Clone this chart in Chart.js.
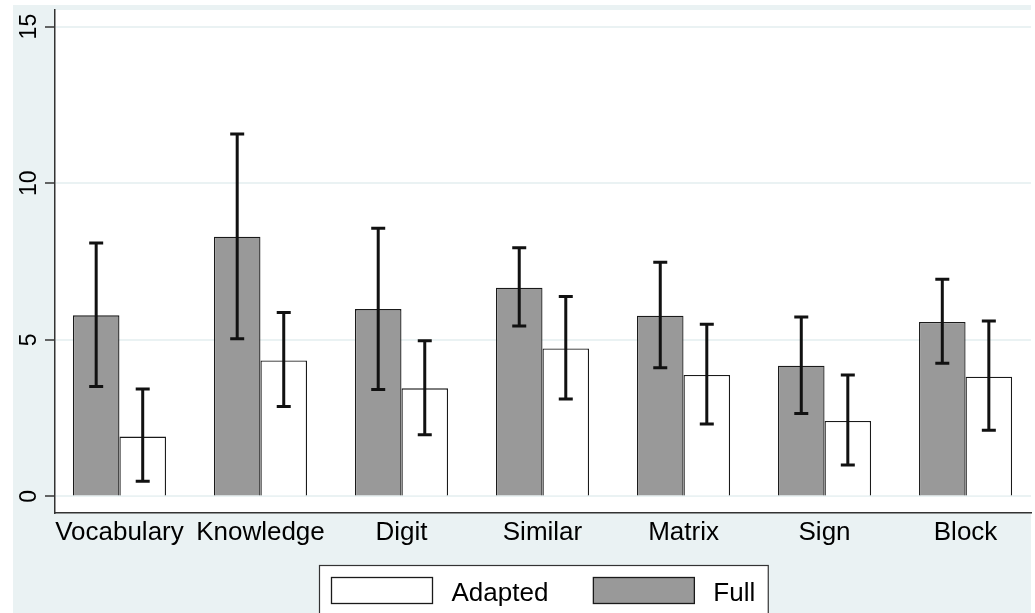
<!DOCTYPE html>
<html>
<head>
<meta charset="utf-8">
<script src="https://cdn.jsdelivr.net/npm/chart.js@4/dist/chart.umd.min.js"></script>
<style>
  html, body { margin: 0; padding: 0; background: #ffffff; }
  #wrap { width: 1035px; height: 613px; position: relative; }
</style>
</head>
<body>
<div id="wrap"><canvas id="c"></canvas></div>
<script>
// ---- data ----
const categories = ['Vocabulary', 'Knowledge', 'Digit', 'Similar', 'Matrix', 'Sign', 'Block'];
const fullMean   = [5.78, 8.29, 5.98, 6.66, 5.77, 4.17, 5.57];
const fullLow    = [3.51, 5.03, 3.41, 5.44, 4.11, 2.65, 4.25];
const fullHigh   = [8.09, 11.57, 8.56, 7.94, 7.48, 5.73, 6.93];
const adaptedMean = [1.91, 4.34, 3.45, 4.72, 3.88, 2.41, 3.82];
const adaptedLow  = [0.48, 2.87, 1.97, 3.11, 2.31, 1.00, 2.11];
const adaptedHigh = [3.43, 5.87, 4.97, 6.38, 5.50, 3.88, 5.60];
const yTicks = [0, 5, 10, 15];
const legendOrder = ['Adapted', 'Full'];

const FONT = '"Liberation Sans", Arial, Helvetica, sans-serif';
const BG = '#eaf2f3';
const FULL_COLOR = '#999999';
const EDGE = '#1a1a1a';

const backgroundPlugin = {
  id: 'bg',
  beforeDraw(chart) {
    const { ctx, chartArea: a, width, height } = chart;
    ctx.save();
    ctx.fillStyle = '#ffffff';
    ctx.fillRect(0, 0, width, height);
    ctx.fillStyle = BG;
    ctx.fillRect(13, 5, a.right - 13, height - 5);
    ctx.fillStyle = '#ffffff';
    ctx.fillRect(a.left, a.top, a.right - a.left, a.bottom - a.top);
    ctx.restore();
  }
};

const errorBarPlugin = {
  id: 'errbars',
  afterDatasetsDraw(chart) {
    const { ctx } = chart;
    const y = chart.scales.y;
    chart.data.datasets.forEach((ds, di) => {
      const meta = chart.getDatasetMeta(di);
      meta.data.forEach((bar, j) => {
        const x = bar.x;
        const top = y.getPixelForValue(ds.errHigh[j]);
        const bot = y.getPixelForValue(ds.errLow[j]);
        ctx.save();
        ctx.strokeStyle = '#111111';
        ctx.lineWidth = 3;
        ctx.beginPath();
        ctx.moveTo(x, top); ctx.lineTo(x, bot);
        ctx.moveTo(x - 7, top); ctx.lineTo(x + 7, top);
        ctx.moveTo(x - 7, bot); ctx.lineTo(x + 7, bot);
        ctx.stroke();
        ctx.restore();
      });
    });
  }
};

const legendPlugin = {
  id: 'boxLegend',
  afterDraw(chart) {
    const { ctx, chartArea: a } = chart;
    const items = legendOrder.map(name => chart.data.datasets.find(d => d.label === name));
    ctx.save();
    ctx.font = '26px ' + FONT;
    const sw = 101, sh = 26, gap = 19, itemGap = 45, padL = 12, padR = 13;
    const widths = items.map(d => ctx.measureText(d.label).width);
    let total = padL + padR;
    items.forEach((d, i) => { total += sw + gap + widths[i]; });
    total += itemGap * (items.length - 1);
    const cx = (a.left + a.right) / 2;
    const left = Math.round(cx - total / 2) + 0.5;
    const top = a.bottom + 52.5;
    ctx.fillStyle = '#ffffff';
    ctx.fillRect(left, top, total, 60);
    ctx.strokeStyle = '#333333';
    ctx.lineWidth = 1.2;
    ctx.strokeRect(left, top, total, 60);
    let x = left + padL;
    items.forEach((d, i) => {
      ctx.fillStyle = d.backgroundColor;
      ctx.fillRect(x, top + 12, sw, sh);
      ctx.strokeStyle = EDGE;
      ctx.lineWidth = 1.3;
      ctx.strokeRect(x, top + 12, sw, sh);
      ctx.fillStyle = '#000000';
      ctx.textBaseline = 'alphabetic';
      ctx.textAlign = 'left';
      ctx.fillText(d.label, x + sw + gap, top + 35);
      x += sw + gap + widths[i] + itemGap;
    });
    ctx.restore();
  }
};

new Chart(document.getElementById('c'), {
  type: 'bar',
  data: {
    datasets: [
      {
        label: 'Full',
        data: fullMean.map((v, i) => ({ x: i, y: v })),
        errLow: fullLow, errHigh: fullHigh,
        backgroundColor: FULL_COLOR, borderColor: EDGE, borderWidth: 1.3,
        categoryPercentage: 0.66, barPercentage: 1.0
      },
      {
        label: 'Adapted',
        data: adaptedMean.map((v, i) => ({ x: i, y: v })),
        errLow: adaptedLow, errHigh: adaptedHigh,
        backgroundColor: '#ffffff', borderColor: EDGE, borderWidth: 1.3,
        categoryPercentage: 0.66, barPercentage: 1.0
      }
    ]
  },
  options: {
    responsive: true,
    maintainAspectRatio: false,
    animation: false,
    layout: { padding: { left: 13, top: 10, right: 4, bottom: 0 } },
    plugins: { legend: { display: false }, tooltip: { enabled: false } },
    scales: {
      x: {
        type: 'linear',
        min: -0.457, max: 6.464,
        offset: false,
        afterBuildTicks(s) { s.ticks = categories.map((c, i) => ({ value: i })); },
        afterFit(s) { s.height = 100; s.paddingLeft = 0; s.paddingRight = 0; },
        grid: { display: false, drawTicks: false },
        border: { display: true, color: '#333333', width: 1.5 },
        ticks: {
          autoSkip: false, maxRotation: 0, minRotation: 0, padding: 4,
          color: '#000000', font: { family: FONT, size: 26 },
          callback: (v) => categories[v]
        }
      },
      y: {
        type: 'linear',
        min: -0.53, max: 15.53,
        afterBuildTicks(s) { s.ticks = yTicks.map(v => ({ value: v })); },
        afterFit(s) { s.width = 42; s.paddingTop = 0; s.paddingBottom = 0; },
        grid: { color: BG, lineWidth: 2, tickColor: '#333333', tickLength: 10, tickWidth: 1.5 },
        border: { display: true, color: '#333333', width: 1.5 },
        ticks: {
          minRotation: 90, maxRotation: 90, crossAlign: 'center', padding: 3,
          color: '#000000', font: { family: FONT, size: 23 }
        }
      }
    }
  },
  plugins: [backgroundPlugin, errorBarPlugin, legendPlugin]
});
</script>
</body>
</html>
